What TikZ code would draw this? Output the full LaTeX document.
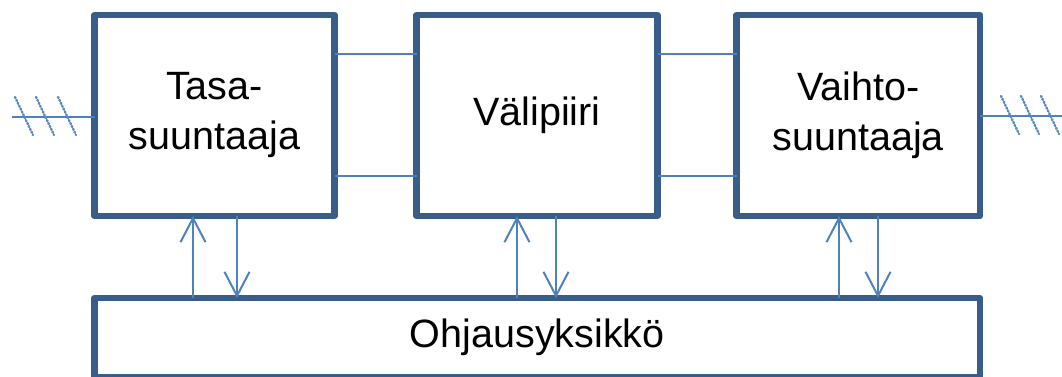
\documentclass[tikz,border=0pt]{standalone}
\usepackage{fontspec}
\setmainfont{Liberation Sans}
\usetikzlibrary{arrows.meta}
\definecolor{boxblue}{RGB}{56,93,138}
\definecolor{wireblue}{RGB}{79,129,189}
\definecolor{hatchblue}{RGB}{90,138,196}
\begin{document}
\begin{tikzpicture}[x=1pt,y=-1pt,
  block/.style={draw=boxblue, line width=6.5pt, line join=round, rectangle,
    inner sep=0pt, outer sep=0pt, align=center,
    font=\fontsize{39.5}{50}\selectfont},
  wire/.style={draw=wireblue, line width=2pt},
  arr/.style={wire, -{Straight Barb[length=24pt,width=25pt,line width=2pt]}},
  hatch/.style={draw=hatchblue, line width=2.4pt, line cap=round, dash pattern=on 1.2pt off 2pt}]
\useasboundingbox (0,0) rectangle (1062,376);

% converter blocks
\node[block, minimum width=240pt, minimum height=201pt] (tasa) at (214.5,115.5) {Tasa-\\suuntaaja};
\node[block, minimum width=241pt, minimum height=201pt] (vali) at (537,115.5) {Välipiiri};
\node[block, minimum width=243.5pt, minimum height=201pt] (vaihto) at (858.25,115.5) {Vaihto-\\suuntaaja};
\node[block, minimum width=885.5pt, minimum height=79pt] (ohj) at (537.25,337.5) {Ohjausyksikkö};

% DC link between the blocks
\foreach \yy in {54,176} {
  \draw[wire] (tasa.east |- 0,\yy) -- (vali.west |- 0,\yy);
  \draw[wire] (vali.east |- 0,\yy) -- (vaihto.west |- 0,\yy);
}

% three-phase supply and output
\coordinate (inL) at (12,117);
\coordinate (outR) at (1062,116);
\draw[wire] (inL) -- (tasa.west |- inL);
\draw[wire] (vaihto.east |- outR) -- (outR);
\foreach \xx in {23,44,66} \draw[hatch] (\xx-8,97) -- (\xx+10,135);
\foreach \xx in {1010,1030,1050} \draw[hatch] (\xx-9,96) -- (\xx+9,134);

% control signals
\foreach \xa/\xb/\bl in {193/237/tasa, 517/556/vali, 839/878/vaihto} {
  \draw[arr] (ohj.north -| \xa,0) -- (\bl.south -| \xa,0);
  \draw[arr] (\bl.south -| \xb,0) -- (ohj.north -| \xb,0);
}
\end{tikzpicture}
\end{document}
